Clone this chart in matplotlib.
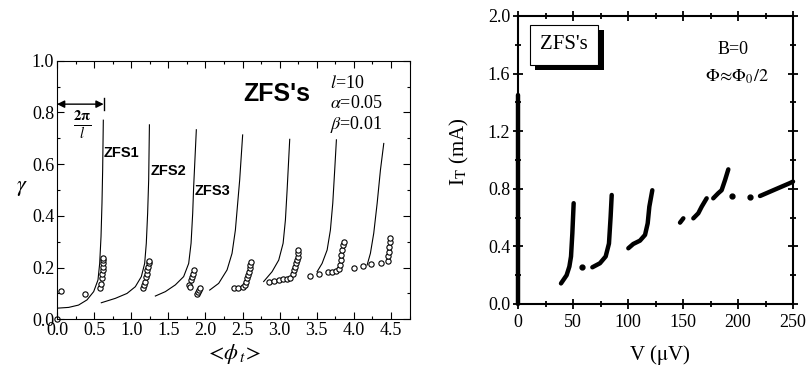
import numpy as np
import matplotlib
matplotlib.use("Agg")
import matplotlib.pyplot as plt
import matplotlib.patheffects as pe
from matplotlib.ticker import MultipleLocator, FormatStrFormatter

plt.rcParams['font.family'] = ['Liberation Serif', 'DejaVu Serif']
plt.rcParams['mathtext.fontset'] = 'stix'

# ---- left panel: theory curves (gamma vs <phi_t>) ----
curves_x = [
    [0.0, 0.157, 0.29, 0.404, 0.494, 0.552, 0.575, 0.593, 0.606, 0.615, 0.624],
    [0.597, 0.786, 0.943, 1.055, 1.136, 1.181, 1.203, 1.221, 1.235, 1.245],
    [1.325, 1.46, 1.594, 1.706, 1.774, 1.806, 1.828, 1.841, 1.877],
    [2.057, 2.178, 2.291, 2.358, 2.403, 2.434, 2.461, 2.501],
    [2.784, 2.897, 2.987, 3.046, 3.077, 3.1, 3.135],
    [3.504, 3.571, 3.639, 3.683, 3.715, 3.741, 3.764],
    [4.178, 4.222, 4.267, 4.313, 4.357, 4.402],
]
curves_y = [
    [0.043, 0.046, 0.055, 0.075, 0.107, 0.152, 0.216, 0.32, 0.449, 0.577, 0.77],
    [0.064, 0.081, 0.1, 0.126, 0.165, 0.216, 0.294, 0.41, 0.539, 0.752],
    [0.09, 0.107, 0.133, 0.165, 0.216, 0.294, 0.41, 0.513, 0.733],
    [0.113, 0.139, 0.191, 0.255, 0.345, 0.449, 0.539, 0.713],
    [0.146, 0.184, 0.229, 0.294, 0.384, 0.5, 0.696],
    [0.184, 0.216, 0.268, 0.345, 0.449, 0.577, 0.694],
    [0.21, 0.255, 0.333, 0.449, 0.577, 0.68],
]

# simulation points (open circles)
sim_x = [0.0, 0.054, 0.377,
         0.58, 0.592, 0.603, 0.607, 0.617, 0.617, 0.621, 0.626, 0.626,
         1.165, 1.178, 1.192, 1.201, 1.21, 1.219, 1.229, 1.237, 1.245,
         1.774, 1.785, 1.801, 1.815, 1.828, 1.841, 1.887, 1.9, 1.912, 1.925,
         2.38, 2.444, 2.502, 2.533, 2.546, 2.555, 2.569, 2.583, 2.596, 2.605, 2.62,
         2.852, 2.924, 2.986, 3.049, 3.103, 3.144, 3.184, 3.198, 3.211, 3.224, 3.238,
         3.243, 3.248, 3.252,
         3.405, 3.526, 3.652, 3.701, 3.76, 3.796, 3.81, 3.82, 3.83, 3.84, 3.852, 3.863,
         3.998, 4.124, 4.236, 4.367, 4.456, 4.462, 4.468, 4.475, 4.483, 4.492]
sim_y = [0.0, 0.11, 0.096,
         0.121, 0.138, 0.158, 0.177, 0.19, 0.203, 0.216, 0.229, 0.238,
         0.12, 0.132, 0.145, 0.164, 0.177, 0.19, 0.203, 0.216, 0.224,
         0.133, 0.125, 0.151, 0.164, 0.177, 0.191, 0.098, 0.106, 0.115, 0.12,
         0.12, 0.12, 0.125, 0.132, 0.145, 0.158, 0.171, 0.184, 0.197, 0.21, 0.223,
         0.146, 0.148, 0.151, 0.154, 0.157, 0.158, 0.177, 0.19, 0.203, 0.216, 0.229,
         0.242, 0.255, 0.268,
         0.167, 0.175, 0.184, 0.184, 0.188, 0.193, 0.21, 0.229, 0.248, 0.268, 0.287, 0.3,
         0.2, 0.206, 0.213, 0.217, 0.227, 0.245, 0.262, 0.28, 0.298, 0.313]

zfs_labels = ["ZFS1", "ZFS2", "ZFS3"]
zfs_pos = [(0.624, 0.643), (1.257, 0.573), (1.85, 0.496)]
l_num = 10

# ---- right panel: measured I-V (I_T in mA vs V in uV) ----
iv_V = [
    [0, 0],
    [39.1, 44.2, 46.7, 48.2, 49.4, 50.6],
    [67.6, 74.5, 79.7, 82.7, 84.2, 85.2],
    [100.3, 104.8, 110.9, 115.5, 117.9, 119.4, 122.1],
    [147.3, 150.3],
    [159.4, 163.9, 167.0, 171.5],
    [177.5, 182.1, 185.1, 188.2, 191.2],
    [220.0, 232.1, 247.3, 250.0],
]
iv_I = [
    [0.0, 1.45],
    [0.143, 0.2, 0.26, 0.33, 0.49, 0.70],
    [0.255, 0.283, 0.33, 0.42, 0.606, 0.757],
    [0.387, 0.417, 0.44, 0.48, 0.56, 0.676, 0.79],
    [0.565, 0.595],
    [0.595, 0.63, 0.676, 0.734],
    [0.734, 0.77, 0.79, 0.86, 0.935],
    [0.75, 0.79, 0.84, 0.85],
]
dots_V = [57.9, 194.2, 210.9]
dots_I = [0.26, 0.752, 0.745]

fig = plt.figure(figsize=(8.11, 3.67), dpi=100)

# left panel
ax1 = fig.add_axes([57 / 811, 1 - 319.3 / 367, 352.6 / 811, 258.6 / 367])
for cx, cy in zip(curves_x, curves_y):
    ax1.plot(cx, cy, color='black', lw=0.8)
ax1.plot(sim_x, sim_y, 'o', ms=3.8, mfc='white', mec='black', mew=0.8, clip_on=False)

ax1.set_xlim(0, 4.75)
ax1.set_ylim(0, 1.0)
ax1.xaxis.set_major_locator(MultipleLocator(0.5))
ax1.xaxis.set_minor_locator(MultipleLocator(0.25))
ax1.yaxis.set_major_locator(MultipleLocator(0.2))
ax1.yaxis.set_minor_locator(MultipleLocator(0.1))
ax1.xaxis.set_major_formatter(FormatStrFormatter('%.1f'))
ax1.yaxis.set_major_formatter(FormatStrFormatter('%.1f'))
ax1.tick_params(which='both', direction='in', top=True, right=True, width=0.8)
ax1.tick_params(which='major', length=5, labelsize=13)
ax1.tick_params(which='minor', length=2.5)
ax1.tick_params(axis='x', pad=2)
ax1.tick_params(axis='y', pad=2)
for s in ax1.spines.values():
    s.set_linewidth(0.8)

ax1.set_ylabel(r'$\gamma$', fontsize=16, rotation=0)
ax1.yaxis.set_label_coords(-0.1, 0.47)
ax1.set_xlabel(r'$<\!\phi_{\,t}\!>$', fontsize=16)
ax1.xaxis.set_label_coords(0.5, -0.088)

ax1.text(2.955, 0.871, "ZFS's", fontsize=18, fontweight='bold',
         family='Liberation Sans', ha='center', va='center')
ax1.text(3.68, 0.91, r'$\mathit{l}$=10', fontsize=13, ha='left', va='center')
ax1.text(3.68, 0.833, r'$\alpha$=0.05', fontsize=13, ha='left', va='center')
ax1.text(3.68, 0.755, r'$\beta$=0.01', fontsize=13, ha='left', va='center')
for lab, (lx, ly) in zip(zfs_labels, zfs_pos):
    ax1.text(lx, ly, lab, fontsize=10.5, fontweight='bold',
             family='Liberation Sans', ha='left', va='center')

# 2*pi/l period marker
period = 2 * np.pi / l_num
ax1.annotate('', xy=(0, 0.832), xytext=(period, 0.832),
             arrowprops=dict(arrowstyle='<|-|>', color='black', lw=1,
                             mutation_scale=11, shrinkA=0, shrinkB=0))
ax1.plot([period, period], [0.81, 0.857], color='black', lw=1)
ax1.text(0.34, 0.75, r'$\frac{\mathbf{2\pi}}{\mathbf{\mathit{l}}}$', fontsize=15,
         ha='center', va='center')

# right panel
ax2 = fig.add_axes([518 / 811, 1 - 304 / 367, 275 / 811, 288 / 367])
for v, i in zip(iv_V, iv_I):
    ax2.plot(v, i, color='black', lw=3.2, solid_capstyle='round', clip_on=False)
ax2.plot(dots_V, dots_I, 'o', color='black', ms=3.5)

ax2.set_xlim(0, 250)
ax2.set_ylim(0, 2.0)
ax2.xaxis.set_major_locator(MultipleLocator(50))
ax2.xaxis.set_minor_locator(MultipleLocator(25))
ax2.yaxis.set_major_locator(MultipleLocator(0.4))
ax2.yaxis.set_minor_locator(MultipleLocator(0.2))
ax2.yaxis.set_major_formatter(FormatStrFormatter('%.1f'))
ax2.tick_params(which='both', direction='inout', top=True, right=True, width=1.3)
ax2.tick_params(which='major', length=7, labelsize=13)
ax2.tick_params(which='minor', length=5)
ax2.tick_params(axis='x', pad=4)
ax2.tick_params(axis='y', pad=2)
for s in ax2.spines.values():
    s.set_linewidth(1.5)

ax2.set_ylabel(r'I$_\mathrm{T}$ (mA)', fontsize=15)
ax2.yaxis.set_label_coords(-0.17, 0.53)
ax2.set_xlabel(r'V ($\mathrm{\mu}$V)', fontsize=15)
ax2.xaxis.set_label_coords(0.516, -0.135)

t = ax2.text(41.8, 1.80, "ZFS's", fontsize=15, ha='center', va='center',
             bbox=dict(boxstyle='square,pad=0.5', fc='white', ec='black', lw=0.8))
t.get_bbox_patch().set_path_effects([
    pe.SimplePatchShadow(offset=(4, -4), shadow_rgbFace='black', alpha=1.0),
    pe.Normal()])
ax2.text(195.5, 1.77, 'B=0', fontsize=13, ha='center', va='center')
ax2.text(199, 1.576, r'$\Phi\!\approx\!\Phi_0/2$', fontsize=13, ha='center', va='center')

fig.savefig('out.png', dpi=100)
